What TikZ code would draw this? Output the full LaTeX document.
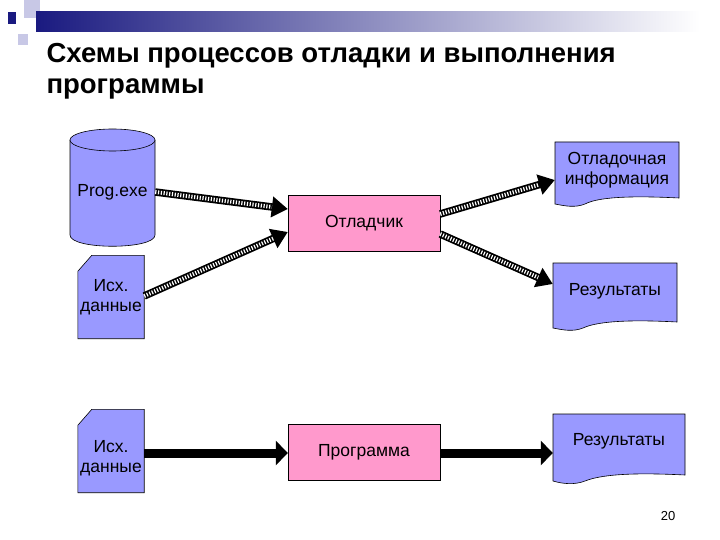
\documentclass[tikz,border=0pt]{standalone}
\usepackage{fontspec}
\setmainfont{Liberation Sans}
\usetikzlibrary{arrows.meta,shapes.geometric}
\definecolor{peri}{HTML}{9999FF}
\definecolor{pinkb}{HTML}{FF99CC}
\definecolor{navy}{HTML}{1A1A80}
\definecolor{lav}{HTML}{C8C8E6}
\begin{document}
\begin{tikzpicture}[x=1pt,y=-1pt,
  lbl/.style={font=\fontsize{17.5}{19.5}\selectfont,align=center,inner sep=0pt},
  box/.style={lbl,draw,fill=pinkb,minimum width=152pt,minimum height=56pt},
  harrow/.style={draw=black,line width=7.5pt,-{Triangle[length=16pt,width=20pt]},
    postaction={draw=white,line width=4pt,dash pattern=on 1.2pt off 1.6pt,shorten >=16pt,arrows=-}},
  sarrow/.style={draw=black,line width=9pt,-{Triangle[length=12pt,width=24pt]}},
  shp/.style={draw=black,fill=peri,line width=0.6pt}]
\useasboundingbox (0,0) rectangle (720,540);
\fill[white] (0,0) rectangle (720,540);
% header decoration
\fill[lav] (24,0) rectangle (40,18);
\fill[lav] (18,34) rectangle (28,45);
\shade[left color=navy,right color=white] (36,12) rectangle (700,32);
\fill[navy] (8,12) rectangle (16,24);
\node[anchor=west,font=\bfseries\fontsize{27.5}{30}\selectfont] (t1) at (43,56) {Схемы процессов отладки и выполнения};
\node[anchor=west,font=\bfseries\fontsize{27.5}{30}\selectfont] (t2) at (43,89) {программы};
% cylinder
\draw[shp] (70,140) -- (70,235) .. controls (70,250) and (155,250) .. (155,235) -- (155,140);
\draw[shp] (112.5,140) ellipse[x radius=42.5,y radius=11];
\node[lbl,minimum width=85pt,minimum height=100pt] (prog) at (112.5,192) {Prog.exe};
% source data 1
\node[lbl,minimum width=66pt,minimum height=83pt] (src1) at (111,297) {};
\draw[shp] (src1.north west)++(0,16) -- ++(14,-16) -- (src1.north east) -- (src1.south east) -- (src1.south west) -- cycle;
\node[lbl] at (src1) {Исх.\\данные};
% debugger
\node[box] (dbg) at (364,223) {Отладчик};
% debug info
\node[lbl,minimum width=124pt,minimum height=62pt] (dinfo) at (617,173) {};
\draw[shp] (555,142) -- (679,142) -- (679,198) .. controls (640,196) and (600,196) .. (585,204) .. controls (575,208) and (565,206) .. (555,204) -- cycle;
\node[lbl] at (617,170) {Отладочная\\информация};
% results 1
\node[lbl,minimum width=124pt,minimum height=66pt] (res1) at (615,296) {};
\draw[shp] (553,263) -- (677,263) -- (677,322) .. controls (640,320) and (600,320) .. (583,328) .. controls (573,332) and (563,330) .. (553,328) -- cycle;
\node[lbl] at (615,291) {Результаты};
% bottom row
\node[lbl,minimum width=66pt,minimum height=83pt] (src2) at (111,451) {};
\draw[shp] (src2.north west)++(0,16) -- ++(14,-16) -- (src2.north east) -- (src2.south east) -- (src2.south west) -- cycle;
\node[lbl] at (111,458) {Исх.\\данные};
\node[box] (prg) at (364,452) {Программа};
\node[lbl,minimum width=132pt,minimum height=68pt] (res2) at (619,448) {};
\draw[shp] (553,414) -- (685,414) -- (685,475) .. controls (645,473) and (605,473) .. (585,481) .. controls (575,485) and (563,484) .. (553,481) -- cycle;
\node[lbl] at (619,441) {Результаты};
% arrows
\draw[harrow] (prog.east |- 0,192) -- (dbg.north west |- 0,209);
\draw[harrow] (src1.east |- 0,296) -- (dbg.west |- 0,232);
\draw[harrow] (dbg.east |- 0,214) -- (dinfo.west |- 0,180);
\draw[harrow] (dbg.east |- 0,234) -- (res1.west |- 0,284);
\draw[sarrow] (src2.east |- 0,453) -- (prg.west |- 0,453);
\draw[sarrow] (prg.east |- 0,453) -- (res2.west |- 0,453);
\node[font=\fontsize{13}{15}\selectfont] (pg) at (668,516) {20};
\end{tikzpicture}
\end{document}
